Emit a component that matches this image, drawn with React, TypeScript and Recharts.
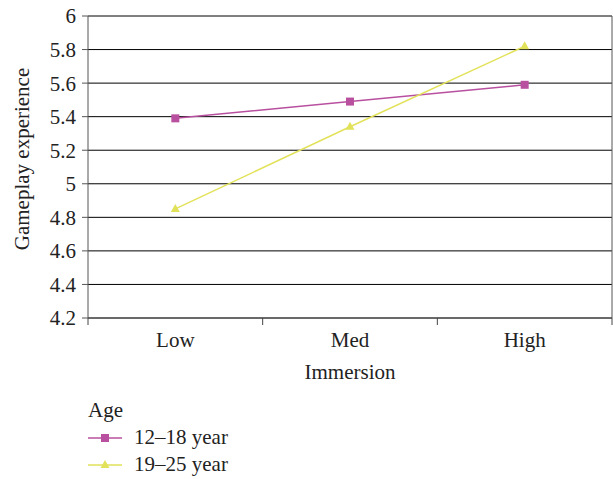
import React from 'react'
import { LineChart, Line, XAxis, YAxis, CartesianGrid, ReferenceLine } from 'recharts'

const categories = ['Low', 'Med', 'High']
const teenScores = [5.39, 5.49, 5.59]
const youngAdultScores = [4.85, 5.34, 5.82]
const yTicks = [4.2, 4.4, 4.6, 4.8, 5, 5.2, 5.4, 5.6, 5.8, 6]
const xTicks = [0, 0.5, 1, 1.5, 2, 2.5, 3]

const FONT = '"Liberation Serif", "DejaVu Serif", serif'
const MAGENTA = '#b8509f'
const YELLOW = '#e2e25a'

const chartData = categories.map((name, i) => ({
  pos: i + 0.5,
  name,
  teen: teenScores[i],
  young: youngAdultScores[i],
}))

const SquareDot = (props: any) => {
  const { cx, cy } = props
  if (cx == null || cy == null) return null
  return <rect x={cx - 4} y={cy - 4} width={8} height={8} fill={MAGENTA} />
}

const TriangleDot = (props: any) => {
  const { cx, cy } = props
  if (cx == null || cy == null) return null
  return <polygon points={`${cx},${cy - 5} ${cx - 4.5},${cy + 3} ${cx + 4.5},${cy + 3}`} fill={YELLOW} />
}

const XTick = (props: any) => {
  const { x, y, payload } = props
  const v = payload.value
  if (Number.isInteger(v)) {
    return <line x1={x} x2={x} y1={y} y2={y + 7} stroke="#444" strokeWidth={1} />
  }
  return (
    <text x={x} y={y + 29} textAnchor="middle" fontFamily={FONT} fontSize={21} fill="#222">
      {categories[Math.floor(v)]}
    </text>
  )
}

export default function App() {
  return (
    <div style={{ position: 'absolute', left: 0, top: 0, width: 613, height: 479, background: '#fff' }}>
      <LineChart width={613} height={390} data={chartData} margin={{ top: 16, right: 1, bottom: 0, left: 0 }}>
        <CartesianGrid vertical={false} stroke="#000" strokeWidth={1} />
        <XAxis
          dataKey="pos"
          type="number"
          domain={[0, 3]}
          ticks={xTicks}
          interval={0}
          tickSize={0}
          tickMargin={0}
          tick={<XTick />}
          axisLine={{ stroke: '#555' }}
          height={72}
          label={{ value: 'Immersion', position: 'insideBottom', offset: 11, fontFamily: FONT, fontSize: 21, fill: '#222' }}
        />
        <YAxis
          type="number"
          domain={[4.2, 6]}
          ticks={yTicks}
          interval={0}
          width={88}
          tickSize={6}
          tickMargin={6}
          tickLine={{ stroke: '#555' }}
          axisLine={{ stroke: '#555' }}
          tick={{ fontFamily: FONT, fontSize: 21, fill: '#222' }}
          label={{ value: 'Gameplay experience', angle: -90, position: 'insideLeft', offset: 22, dy: -8, fontFamily: FONT, fontSize: 21, fill: '#222', style: { textAnchor: 'middle' } }}
        />
        <ReferenceLine x={3} stroke="#555" />
        <Line dataKey="teen" stroke={MAGENTA} strokeWidth={1.5} dot={<SquareDot />} isAnimationActive={false} />
        <Line dataKey="young" stroke={YELLOW} strokeWidth={1.5} dot={<TriangleDot />} isAnimationActive={false} />
      </LineChart>
      <div style={{ position: 'absolute', left: 88, top: 397, fontFamily: FONT, fontSize: 21, color: '#222', lineHeight: '27px' }}>
        <div>Age</div>
        {[
          { label: '12–18 year', color: MAGENTA, kind: 'square' },
          { label: '19–25 year', color: YELLOW, kind: 'triangle' },
        ].map((item) => (
          <div key={item.label} style={{ display: 'flex', alignItems: 'center' }}>
            <svg width={44} height={14} style={{ marginRight: 2 }}>
              <line x1={0} x2={34} y1={7} y2={7} stroke={item.color} strokeWidth={1.5} />
              {item.kind === 'square' ? (
                <rect x={13} y={3} width={8} height={8} fill={item.color} />
              ) : (
                <polygon points="17,2 12.5,10 21.5,10" fill={item.color} />
              )}
            </svg>
            <span>{item.label}</span>
          </div>
        ))}
      </div>
    </div>
  )
}
